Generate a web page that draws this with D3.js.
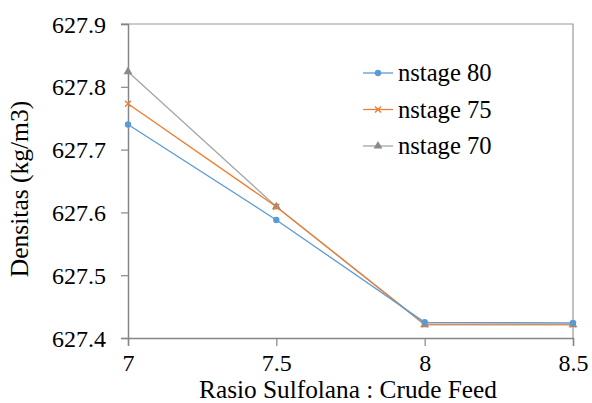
<!DOCTYPE html>
<html>
<head>
<meta charset="utf-8">
<script src="https://cdn.jsdelivr.net/npm/d3@7"></script>
<style>
  body { margin: 0; background: #fff; }
</style>
</head>
<body>
<div id="container"></div>
<script>
/* DATA */
const ratios = [7, 7.5, 8, 8.5];
const nstage80 = [627.740, 627.588, 627.425, 627.424];
const nstage75 = [627.773, 627.609, 627.422, 627.422];
const nstage70 = [627.824, 627.609, 627.421, 627.421];
const seriesNames = ["nstage 80", "nstage 75", "nstage 70"];
const yTicks = [627.4, 627.5, 627.6, 627.7, 627.8, 627.9];
const xTicks = [7, 7.5, 8, 8.5];

/* CONSTANTS */
const width = 592, height = 403;
const margin = { top: 24, right: 19, bottom: 65, left: 128 };
const colors = ["#5b9bd5", "#ed7d31", "#a5a5a5"];
const serif = "Times New Roman";

const series = [nstage80, nstage75, nstage70].map((vals, i) => ({
  name: seriesNames[i],
  color: colors[i],
  values: ratios.map((r, j) => ({ x: r, y: vals[j] }))
}));

const svg = d3.select("#container")
  .append("svg")
  .attr("width", width)
  .attr("height", height)
  .attr("font-family", serif);

const xScale = d3.scaleLinear()
  .domain([7, 8.5])
  .range([margin.left, width - margin.right]);

const yScale = d3.scaleLinear()
  .domain([627.4, 627.9])
  .range([height - margin.bottom, margin.top]);

// plot area border (top and right)
svg.append("path")
  .attr("d", `M${margin.left - 7},${margin.top}H${width - margin.right}V${height - margin.bottom}`)
  .attr("fill", "none")
  .attr("stroke", "#9a9a9a")
  .attr("stroke-width", 1.2);

// + AXES
const xAxis = d3.axisBottom(xScale)
  .tickValues(xTicks)
  .tickFormat(d3.format("~g"))
  .tickSize(8)
  .tickPadding(8);

const yAxis = d3.axisLeft(yScale)
  .tickValues(yTicks)
  .tickFormat(d3.format(".1f"))
  .tickSize(7)
  .tickPadding(15);

const xAxisGroup = svg.append("g")
  .attr("transform", `translate(0, ${height - margin.bottom})`)
  .call(xAxis);

const yAxisGroup = svg.append("g")
  .attr("transform", `translate(${margin.left}, 0)`)
  .call(yAxis);

[xAxisGroup, yAxisGroup].forEach(g => {
  g.attr("font-family", serif).attr("font-size", 24);
  g.select(".domain").attr("stroke", "#868686").attr("stroke-width", 1.5);
  g.selectAll(".tick line").attr("stroke", "#868686").attr("stroke-width", 1.2);
  g.selectAll(".tick text")
    .attr("font-family", serif)
    .attr("font-size", 24)
    .attr("fill", "#000");
});
yAxisGroup.selectAll(".tick text").attr("dy", "0.34em");

// axis titles
svg.append("text")
  .attr("x", 348)
  .attr("y", 398)
  .attr("text-anchor", "middle")
  .attr("font-family", serif)
  .attr("font-size", 25.3)
  .text("Rasio Sulfolana : Crude Feed");

svg.append("text")
  .attr("transform", "translate(28, 189) rotate(-90)")
  .attr("text-anchor", "middle")
  .attr("font-family", serif)
  .attr("font-size", 25.5)
  .text("Densitas (kg/m3)");

// + LINES
const lineGen = d3.line()
  .x(d => xScale(d.x))
  .y(d => yScale(d.y));

svg.selectAll(".line")
  .data(series.slice().reverse())
  .join("path")
  .attr("class", "line")
  .attr("fill", "none")
  .attr("stroke", d => d.color)
  .attr("stroke-width", 1.3)
  .attr("d", d => lineGen(d.values));

// + MARKERS
function drawMarker(g, type, color) {
  if (type === 0) {
    g.append("circle").attr("r", 3.2).attr("fill", color);
  } else if (type === 1) {
    g.append("path")
      .attr("d", "M-3,-3L3,3M-3,3L3,-3")
      .attr("stroke", color)
      .attr("stroke-width", 1.3)
      .attr("fill", "none");
  } else {
    g.append("path")
      .attr("d", d3.symbol(d3.symbolTriangle, 34)())
      .attr("fill", "#8a8a8a");
  }
}

series.slice().reverse().forEach(s => {
  const type = seriesNames.indexOf(s.name);
  s.values.forEach(v => {
    const g = svg.append("g")
      .attr("transform", `translate(${xScale(v.x)}, ${yScale(v.y)})`);
    drawMarker(g, type, s.color);
  });
});

// + LEGEND
const legend = svg.append("g").attr("transform", "translate(363, 73)");
series.forEach((s, i) => {
  const row = legend.append("g").attr("transform", `translate(0, ${i * 36.5})`);
  row.append("line")
    .attr("x1", 0).attr("x2", 30)
    .attr("stroke", s.color)
    .attr("stroke-width", 1.3);
  drawMarker(row.append("g").attr("transform", "translate(15, 0)"), i, s.color);
  row.append("text")
    .attr("x", 35)
    .attr("dy", "0.34em")
    .attr("font-family", serif)
    .attr("font-size", 24.6)
    .text(s.name);
});
</script>
</body>
</html>
